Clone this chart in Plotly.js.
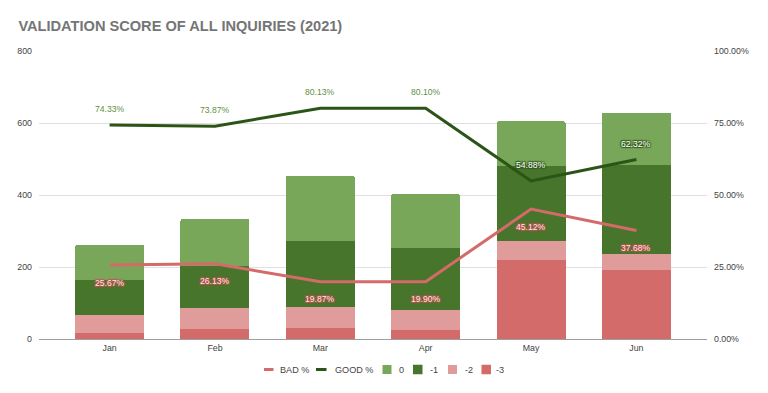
<!DOCTYPE html>
<html>
<head>
<meta charset="utf-8">
<script src="https://cdn.plot.ly/plotly-3.0.1.min.js"></script>
<style>html,body{margin:0;padding:0;background:#fff;}#chart{width:768px;height:393px;}</style>
</head>
<body>
<div id="chart"></div>
<script>
const months = ["Jan", "Feb", "Mar", "Apr", "May", "Jun"];
const score0 = [98, 131, 181, 150, 125, 147];
const scoreM1 = [96, 115, 182, 172, 207, 245];
const scoreM2 = [50, 58, 60, 54, 53, 46];
const scoreM3 = [17, 29, 30, 26, 220, 191];
const badPct = [0.2567, 0.2613, 0.1987, 0.1990, 0.4512, 0.3768];
const goodPct = [0.7433, 0.7387, 0.8013, 0.8010, 0.5488, 0.6232];
const leftTicks = [0, 200, 400, 600, 800];
const rightTicks = [0, 0.25, 0.5, 0.75, 1];
const legendNames = ["BAD %", "GOOD %", "0", "-1", "-2", "-3"];

const C0 = "#78a75a", C1 = "#46752b", C2 = "#e09c9a", C3 = "#d26b69";
const CBAD = "#d46a6a", CGOOD = "#2b5417";
const FONT = "Arial, 'Liberation Sans', sans-serif";
const TICK = 8.8;

const pctLabel = v => (v * 100).toFixed(2) + "%";
const outline = c => `1px 1px 1px ${c}, -1px -1px 1px ${c}, 1px -1px 1px ${c}, -1px 1px 1px ${c}`;

function bar(name, vals, color) {
  return {type: "bar", name: name, x: months, y: vals, marker: {color: color, line: {width: 0}},
    hoverinfo: "y+name"};
}

const traces = [
  bar("-3", scoreM3, C3),
  bar("-2", scoreM2, C2),
  bar("-1", scoreM1, C1),
  bar("0", score0, C0),
  {type: "scatter", mode: "lines", name: "BAD %", x: months, y: badPct, yaxis: "y2",
    line: {color: CBAD, width: 3}},
  {type: "scatter", mode: "lines", name: "GOOD %", x: months, y: goodPct, yaxis: "y2",
    line: {color: CGOOD, width: 3}}
];

// data labels
const annotations = [];
months.forEach((m, i) => {
  const g = goodPct[i];
  const light = g > 0.7;
  annotations.push({text: pctLabel(g), x: m, y: g, xref: "x", yref: "y2", yshift: 16,
    xanchor: "center", yanchor: "middle", showarrow: false,
    font: {family: FONT, size: 8.6, color: light ? "#5f8f43" : "#ffffff",
      shadow: light ? "none" : outline("#2b5417")}});
  annotations.push({text: pctLabel(badPct[i]), x: m, y: badPct[i], xref: "x", yref: "y2", yshift: -17.5,
    xanchor: "center", yanchor: "middle", showarrow: false,
    font: {family: FONT, size: 8.6, color: "#fbe9e9", shadow: outline("#c94f4f")}});
});

// custom compact legend (pixel positions converted to paper coordinates)
const plotL = 39, plotW = 668, plotB = 339, plotH = 288;
const px2x = p => (p - plotL) / plotW;
const px2y = p => (plotB - p) / plotH;
const legendY = 369.5;
const legendSym = [[264, 273.5], [316, 326.5], [382.5, 391.5], [413, 422.5], [448, 457], [481.5, 491]];
const legendTextX = [278, 332.5, 397, 427.5, 462.5, 494.5];
const legendColors = [CBAD, CGOOD, C0, C1, C2, C3];
const shapes = [];
legendNames.forEach((name, i) => {
  const [a, b] = legendSym[i];
  if (i < 2) {
    shapes.push({type: "line", xref: "paper", yref: "paper", x0: px2x(a), x1: px2x(b),
      y0: px2y(legendY), y1: px2y(legendY), line: {color: legendColors[i], width: 3}});
  } else {
    const h = (b - a) / 2;
    shapes.push({type: "rect", xref: "paper", yref: "paper", x0: px2x(a), x1: px2x(b),
      y0: px2y(legendY + h), y1: px2y(legendY - h), fillcolor: legendColors[i], line: {width: 0}});
  }
  annotations.push({text: name, xref: "paper", yref: "paper", x: px2x(legendTextX[i]), y: px2y(legendY),
    xanchor: "left", yanchor: "middle", showarrow: false, font: {family: FONT, size: 9.1, color: "#444444"}});
});

const layout = {
  width: 768, height: 393,
  margin: {l: plotL, r: 768 - plotL - plotW, t: plotB - plotH, b: 393 - plotB},
  paper_bgcolor: "#ffffff", plot_bgcolor: "#ffffff",
  font: {family: FONT, size: TICK, color: "#444444"},
  title: {text: "<b>VALIDATION SCORE OF ALL INQUIRIES (2021)</b>", x: 0.024, xanchor: "left",
    y: 0.934, yanchor: "middle", font: {family: FONT, size: 14.6, color: "#757575"}},
  barmode: "stack", bargap: 0.345, barcornerradius: 2,
  showlegend: false,
  shapes: shapes, annotations: annotations,
  xaxis: {type: "category", range: [-0.67, 5.67], showgrid: false, showline: true,
    linecolor: "#9e9e9e", linewidth: 1, ticks: "", tickfont: {size: TICK, color: "#444"}, fixedrange: true},
  yaxis: {range: [0, 800], tickvals: leftTicks, ticktext: leftTicks.map(String),
    showgrid: true, gridcolor: "#e0e0e0", gridwidth: 1, zeroline: false,
    ticks: "", tickfont: {size: TICK, color: "#444"}, ticklabelstandoff: 6},
  yaxis2: {overlaying: "y", side: "right", range: [0, 1], tickvals: rightTicks,
    ticktext: rightTicks.map(pctLabel), showgrid: false, zeroline: false,
    ticks: "", tickfont: {size: TICK, color: "#444"}, ticklabelstandoff: 6}
};

Plotly.newPlot("chart", traces, layout, {displayModeBar: false, staticPlot: true});
</script>
</body>
</html>
